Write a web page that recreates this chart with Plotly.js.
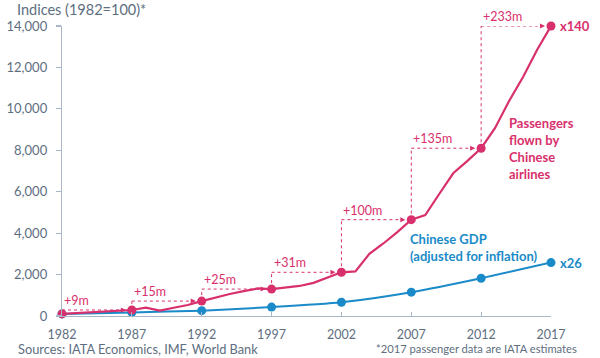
<!DOCTYPE html>
<html><head><meta charset="utf-8">
<script src="https://cdn.plot.ly/plotly-3.0.1.min.js"></script>
<style>html,body{margin:0;padding:0;background:#fff}#chart{width:600px;height:358px}</style>
</head><body><div id="chart"></div>
<script>
// Data
const years = [1982,1983,1984,1985,1986,1987,1988,1989,1990,1991,1992,1993,1994,1995,1996,1997,1998,1999,2000,2001,2002,2003,2004,2005,2006,2007,2008,2009,2010,2011,2012,2013,2014,2015,2016,2017];
const passengers = [100,135,170,210,250,290,400,260,400,530,720,900,1060,1200,1330,1300,1370,1450,1600,1850,2110,2150,3000,3500,4050,4650,4870,5890,6890,7480,8100,9080,10380,11540,12840,14000];
const markerYears = [1982,1987,1992,1997,2002,2007,2012,2017];
const gdp = [100,175,258,430,665,1150,1825,2580];
const growthLabels = ['+9m','+15m','+25m','+31m','+100m','+135m','+233m'];
const tickYears = [1982,1987,1992,1997,2002,2007,2012,2017];

const PINK = '#d8306c';
const BLUE = '#1a8bc8';
const AXIS = '#a8b6c6';
const TXT = '#5d6e80';
const FONT = 'Lato, "Open Sans", sans-serif';

const paxAt = y => passengers[years.indexOf(y)];
const paxMarkers = markerYears.map(paxAt);

const traces = [
  {x: markerYears, y: gdp, type: 'scatter', mode: 'lines+markers', line: {color: BLUE, width: 2, shape: 'spline', smoothing: 0.6},
   marker: {color: BLUE, size: 9}, cliponaxis: false, hoverinfo: 'skip'},
  {x: years, y: passengers, type: 'scatter', mode: 'lines', line: {color: PINK, width: 2.2},
   cliponaxis: false, hoverinfo: 'skip'},
  {x: markerYears, y: paxMarkers, type: 'scatter', mode: 'markers', marker: {color: PINK, size: 9},
   cliponaxis: false, hoverinfo: 'skip'}
];

const shapes = [];
const annotations = [];
for (let i = 0; i < growthLabels.length; i++) {
  const ys = markerYears[i], ye = markerYears[i + 1];
  const v0 = paxMarkers[i], v1 = paxMarkers[i + 1];
  shapes.push({type: 'line', xref: 'x', yref: 'y', x0: ys, x1: ys, y0: v0, y1: v1,
    line: {color: PINK, width: 1, dash: 'dot'}});
  shapes.push({type: 'line', xref: 'x', yref: 'y', x0: ys, x1: ye - 0.7, y0: v1, y1: v1,
    line: {color: PINK, width: 1, dash: 'dot'}});
  annotations.push({x: ye, y: v1, xref: 'x', yref: 'y', ax: -10, ay: 0, text: '', showarrow: true,
    arrowhead: 2, arrowsize: 1, arrowwidth: 1, arrowcolor: PINK, standoff: 6});
  annotations.push({x: ys, y: v1, xref: 'x', yref: 'y', text: growthLabels[i], showarrow: false,
    xanchor: 'left', yanchor: 'bottom', xshift: 0, yshift: 0, font: {family: FONT, size: 12.5, color: PINK}});
}

annotations.push(
  {x: 2017, y: 14000, xref: 'x', yref: 'y', text: '<b>x140</b>', showarrow: false, xanchor: 'left', yanchor: 'middle', xshift: 7,
   font: {family: FONT, size: 13, color: PINK}},
  {x: 2017, y: 2580, xref: 'x', yref: 'y', text: '<b>x26</b>', showarrow: false, xanchor: 'left', yanchor: 'middle', xshift: 7,
   font: {family: FONT, size: 13, color: BLUE}},
  {x: 507, y: 148, xref: 'paper', yref: 'paper', text: '<b>Passengers<br>flown by<br>Chinese<br>airlines</b>', showarrow: false,
   align: 'left', xanchor: 'left', yanchor: 'middle', font: {family: FONT, size: 13, color: PINK}},
  {x: 408, y: 247.5, xref: 'paper', yref: 'paper', text: '<b>Chinese GDP<br>(adjusted for inflation)</b>', showarrow: false,
   align: 'left', xanchor: 'left', yanchor: 'middle', font: {family: FONT, size: 13, color: BLUE}},
  {x: 15, y: 9, xref: 'paper', yref: 'paper', text: 'Indices (1982=100)*', showarrow: false,
   xanchor: 'left', yanchor: 'middle', font: {family: FONT, size: 14.5, color: TXT}},
  {x: 16, y: 349, xref: 'paper', yref: 'paper', text: 'Sources: IATA Economics, IMF, World Bank', showarrow: false,
   xanchor: 'left', yanchor: 'middle', font: {family: FONT, size: 12.8, color: TXT}},
  {x: 579, y: 349, xref: 'paper', yref: 'paper', text: '*2017 passenger data are IATA estimates', showarrow: false,
   xanchor: 'right', yanchor: 'middle', font: {family: FONT, size: 11.2, color: TXT}}
);

// convert pixel-positioned paper annotations to paper fractions
const L = 62, R = 49, T = 26, B = 42, W = 600, H = 358;
annotations.forEach(a => {
  if (a.xref === 'paper') {
    a.x = (a.x - L) / (W - L - R);
    a.y = 1 - (a.y - T) / (H - T - B);
  }
});

const layout = {
  width: W, height: H,
  margin: {l: L, r: R, t: T, b: B, pad: 0},
  paper_bgcolor: '#fff', plot_bgcolor: '#fff',
  showlegend: false,
  font: {family: FONT, color: TXT},
  xaxis: {range: [1982, 2017], tickvals: tickYears, ticktext: tickYears.map(String), showgrid: false, zeroline: false,
    showline: true, linecolor: AXIS, linewidth: 1.2, ticks: 'inside', ticklen: 4, tickcolor: AXIS, tickwidth: 1.2,
    tickfont: {family: FONT, size: 12.5, color: TXT}, ticklabelstandoff: 7, fixedrange: true},
  yaxis: {range: [0, 14000], dtick: 2000, tickformat: ',d', showgrid: false, zeroline: false,
    showline: true, linecolor: AXIS, linewidth: 1.2, ticks: 'outside', ticklen: 5, tickcolor: AXIS, tickwidth: 1.2,
    tickfont: {family: FONT, size: 13, color: TXT}, ticklabelstandoff: 6, fixedrange: true},
  shapes: shapes,
  annotations: annotations
};

Plotly.newPlot('chart', traces, layout, {displayModeBar: false, staticPlot: true});
</script>
</body></html>
